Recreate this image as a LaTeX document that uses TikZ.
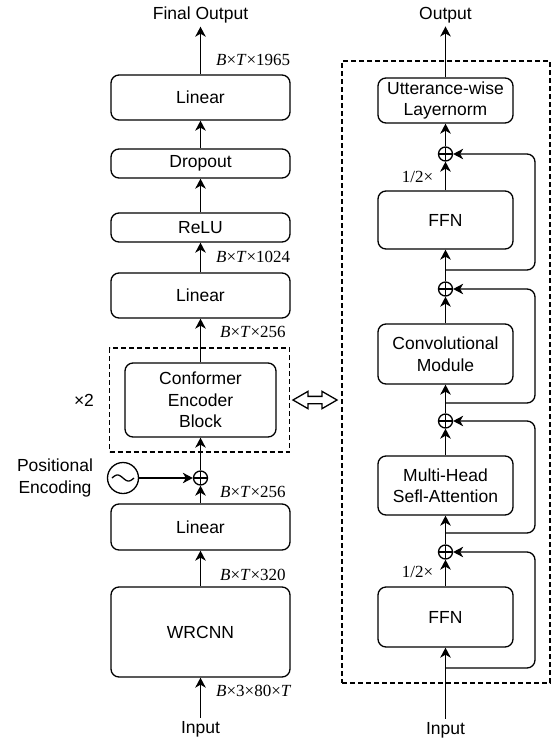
\documentclass[tikz,border=0pt]{standalone}
\usepackage{fontspec}
\setmainfont{Liberation Sans}
\newfontfamily\tms{Liberation Serif}
\usetikzlibrary{arrows.meta,shapes.arrows}
\begin{document}
\begin{tikzpicture}[x=1pt,y=-1pt,
 every node/.style={font=\fontsize{17.5}{21.5}\selectfont},
 ln/.style={line width=1.3pt},
 blk/.style={draw, ln, rounded corners=8pt, minimum width=179pt, align=center, inner sep=0pt},
 rblk/.style={blk, minimum width=135pt},
 arr/.style={ln, -{Stealth[length=10pt,width=10.5pt,inset=3pt]}},
 dsh/.style={draw, ln, dash pattern=on 5pt off 3pt, inner sep=0pt},
 oplus/.style={circle, draw, ln, minimum size=14pt, inner sep=0pt,
   path picture={\draw[ln] (path picture bounding box.north) -- (path picture bounding box.south)
     (path picture bounding box.west) -- (path picture bounding box.east);}},
 dimlab/.style={anchor=west, inner sep=0pt, font=\fontsize{17}{20}\selectfont\tms},
 half/.style={inner sep=0pt, font=\fontsize{17}{20}\selectfont\tms},
]
\useasboundingbox (0,0) rectangle (552,740);

% ---------- left column ----------
\node (outL) at (200.5,15) {Final Output};
\node[blk, minimum height=45pt] (lin3) at (200.5,97.5) {Linear};
\node[blk, minimum height=29pt] (drop) at (200.5,163.5) {Dropout};
\node[blk, minimum height=29pt] (relu) at (200.5,227.5) {ReLU};
\node[blk, minimum height=45pt] (lin2) at (200.5,295.5) {Linear};
\node[dsh, minimum width=180pt, minimum height=104pt] (rep) at (199.5,400) {};
\node[blk, minimum width=151pt, minimum height=74pt] (conf) at (200.5,400) {Conformer\\Encoder\\Block};
\node (x2) at (84,400) {×2};
\node[oplus] (pl) at (200.5,478) {};
\node[circle, draw, ln, minimum size=31pt, inner sep=0pt] (pe) at (123,478) {};
\draw[ln] plot[domain=-11:11, samples=40, smooth] ({123+\x},{478+3*sin(16.36*\x)});
\node[align=center] (petxt) at (55,478) {Positional\\Encoding};
\node[blk, minimum height=46pt] (lin1) at (200.5,527) {Linear};
\node[blk, minimum height=90pt] (wrcnn) at (200.5,632) {WRCNN};
\node (inL) at (200.5,729) {Input};

\draw[arr] (inL) -- (wrcnn);
\draw[arr] (wrcnn) -- (lin1);
\draw[arr] (lin1) -- (pl);
\draw[arr] (pe) -- (pl);
\draw[arr] (pl) -- (conf);
\draw[arr] (conf) -- (lin2);
\draw[arr] (lin2) -- (relu);
\draw[arr] (relu) -- (drop);
\draw[arr] (drop) -- (lin3);
\draw[arr] (lin3) -- (outL);

\node[dimlab] at (216,60) {\textit{B}×\textit{T}×1965};
\node[dimlab] at (216,257) {\textit{B}×\textit{T}×1024};
\node[dimlab] at (220,332) {\textit{B}×\textit{T}×256};
\node[dimlab] at (220,492) {\textit{B}×\textit{T}×256};
\node[dimlab] at (220,575) {\textit{B}×\textit{T}×320};
\node[dimlab] at (216,691) {\textit{B}×3×80×\textit{T}};

% ---------- double arrow ----------
\node[double arrow, draw, ln, minimum height=44pt, minimum width=16pt, inner sep=3pt,
  double arrow head extend=5pt, double arrow tip angle=60] (dbl) at (315,400) {};

% ---------- right column ----------
\node (outR) at (445.5,15) {Output};
\node[dsh, minimum width=208pt, minimum height=622pt] (enc) at (446,372) {};
\node[rblk, minimum height=45pt] (utt) at (445.5,100.5) {Utterance-wise\\Layernorm};
\node[oplus] (p1) at (445.5,154) {};
\node[rblk, minimum height=58pt] (ffn1) at (445.5,220) {FFN};
\node[oplus] (p2) at (445.5,289) {};
\node[rblk, minimum height=60pt] (conv) at (445.5,354) {Convolutional\\Module};
\node[oplus] (p3) at (445.5,421) {};
\node[rblk, minimum height=59pt] (mhsa) at (445.5,485.5) {Multi-Head\\Sefl-Attention};
\node[oplus] (p4) at (445.5,552) {};
\node[rblk, minimum height=60pt] (ffn2) at (445.5,617) {FFN};
\node (inR) at (445.5,730) {Input};
\node[half] at (417.5,177) {1/2×};
\node[half] at (417.5,572) {1/2×};

\coordinate (s1) at (445.5,270);
\coordinate (s2) at (445.5,403);
\coordinate (s3) at (445.5,533);
\coordinate (s4) at (445.5,668);

\draw[arr] (inR) -- (ffn2);
\draw[arr] (ffn2) -- (p4);
\draw[arr] (p4) -- (mhsa);
\draw[arr] (mhsa) -- (p3);
\draw[arr] (p3) -- (conv);
\draw[arr] (conv) -- (p2);
\draw[arr] (p2) -- (ffn1);
\draw[arr] (ffn1) -- (p1);
\draw[arr] (p1) -- (utt);
\draw[arr] (utt) -- (outR);

\draw[arr, rounded corners=8pt] (s1) -- (535,270) -- (535,154) -- (p1);
\draw[arr, rounded corners=8pt] (s2) -- (535,403) -- (535,289) -- (p2);
\draw[arr, rounded corners=8pt] (s3) -- (535,533) -- (535,421) -- (p3);
\draw[arr, rounded corners=8pt] (s4) -- (535,668) -- (535,552) -- (p4);
\end{tikzpicture}
\end{document}
